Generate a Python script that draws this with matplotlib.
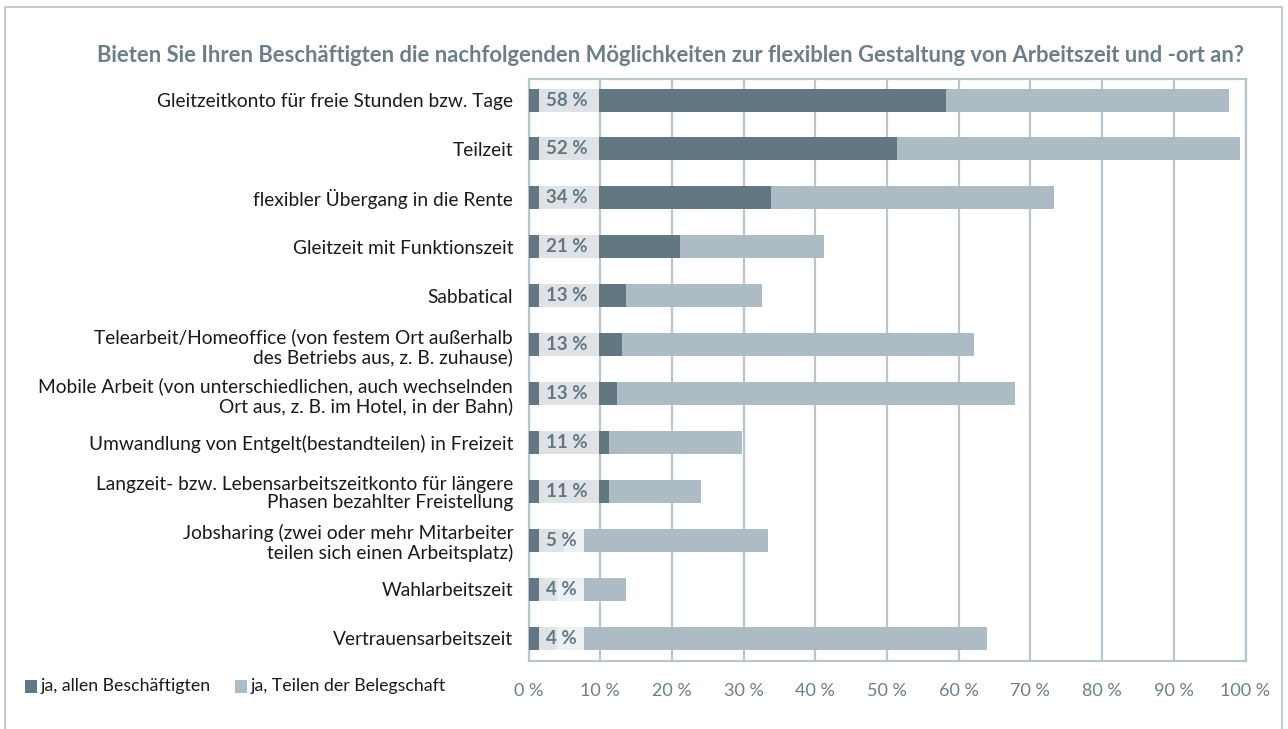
import matplotlib
matplotlib.use("Agg")
import matplotlib.pyplot as plt
from matplotlib.patches import Rectangle
import numpy as np

categories = [
    "Gleitzeitkonto für freie Stunden bzw. Tage",
    "Teilzeit",
    "flexibler Übergang in die Rente",
    "Gleitzeit mit Funktionszeit",
    "Sabbatical",
    "Telearbeit/Homeoffice (von festem Ort außerhalb\ndes Betriebs aus, z. B. zuhause)",
    "Mobile Arbeit (von unterschiedlichen, auch wechselnden\nOrt aus, z. B. im Hotel, in der Bahn)",
    "Umwandlung von Entgelt(bestandteilen) in Freizeit",
    "Langzeit- bzw. Lebensarbeitszeitkonto für längere\nPhasen bezahlter Freistellung",
    "Jobsharing (zwei oder mehr Mitarbeiter\nteilen sich einen Arbeitsplatz)",
    "Wahlarbeitszeit",
    "Vertrauensarbeitszeit",
]
alle = [58.2, 51.4, 33.8, 21.1, 13.6, 13.0, 12.4, 11.2, 11.2, 4.9, 4.0, 4.0]
teile = [39.5, 47.9, 39.5, 20.1, 18.9, 49.1, 55.5, 18.6, 12.9, 28.5, 9.6, 60.0]
labels = ["58 %", "52 %", "34 %", "21 %", "13 %", "13 %", "13 %", "11 %", "11 %", "5 %", "4 %", "4 %"]
xticks = [0, 10, 20, 30, 40, 50, 60, 70, 80, 90, 100]
xticklabels = ["0 %", "10 %", "20 %", "30 %", "40 %", "50 %", "60 %", "70 %", "80 %", "90 %", "100 %"]
series_names = ["ja, allen Beschäftigten", "ja, Teilen der Belegschaft"]
title = "Bieten Sie Ihren Beschäftigten die nachfolgenden Möglichkeiten zur flexiblen Gestaltung von Arbeitszeit und -ort an?"

DARK = "#627782"
LIGHT = "#adbbc4"
GRID = "#b9c5cd"
FONT = ["Lato", "DejaVu Sans"]

plt.rcParams['font.family'] = FONT

fig = plt.figure(figsize=(12.88, 7.29), dpi=100)
W, H = 1288, 729
ax = fig.add_axes([528.5 / W, 1 - 661 / H, (1245.5 - 528.5) / W, (661 - 79) / H])

y = np.arange(len(categories))
bh = 0.47
ax.barh(y, alle, height=bh, color=DARK, zorder=3)
ax.barh(y, teile, left=alle, height=bh, color=LIGHT, zorder=3)

for i, lab in enumerate(labels):
    wbox = 8.5 if len(lab) > 3 else 6.3
    ax.add_patch(Rectangle((1.4, i - bh / 2), wbox, bh, facecolor="white", alpha=0.8,
                           edgecolor="none", zorder=4))
    ax.text(2.4, i, lab, va="center", ha="left", fontsize=13.5, color=DARK,
            fontweight="bold", zorder=5)

ax.set_xlim(0, 100)
ax.set_ylim(len(categories) - 1 + 0.47, -0.43)
ax.set_yticks(y)
ax.set_yticklabels(categories, fontsize=13.8, color="#1a1a1a", linespacing=1.12)
ax.set_xticks(xticks)
ax.set_xticklabels(xticklabels, fontsize=13, color="#6b7f8a")
ax.tick_params(axis="both", length=0)
ax.tick_params(axis="x", pad=16)
ax.tick_params(axis="y", pad=11)
ax.grid(axis="x", color=GRID, linewidth=1.6, zorder=0)
ax.set_axisbelow(True)
for s in ax.spines.values():
    s.set_color(GRID)
    s.set_linewidth(1.6)

fig.text(97 / W, 1 - 56 / H, title, fontsize=15.8, fontweight="bold", color="#6b7f8a",
         ha="left", va="center")

# legend
ly = 1 - 686 / H
for xp, col, name in [(25, DARK, series_names[0]), (235, LIGHT, series_names[1])]:
    fig.patches.append(Rectangle((xp / W, ly - 6.5 / H), 12 / W, 13 / H, facecolor=col,
                                 edgecolor="none", transform=fig.transFigure, figure=fig))
    fig.text((xp + 16) / W, ly, name, fontsize=12.8, color="#1a1a1a", ha="left", va="center")

# outer frame
fig.add_artist(plt.Line2D([5 / W, 5 / W, 1282 / W, 1282 / W], [0, 1 - 7 / H, 1 - 7 / H, 0],
                          transform=fig.transFigure, color="#c3ccd3", linewidth=1.5))

fig.savefig("out.png", dpi=100)
